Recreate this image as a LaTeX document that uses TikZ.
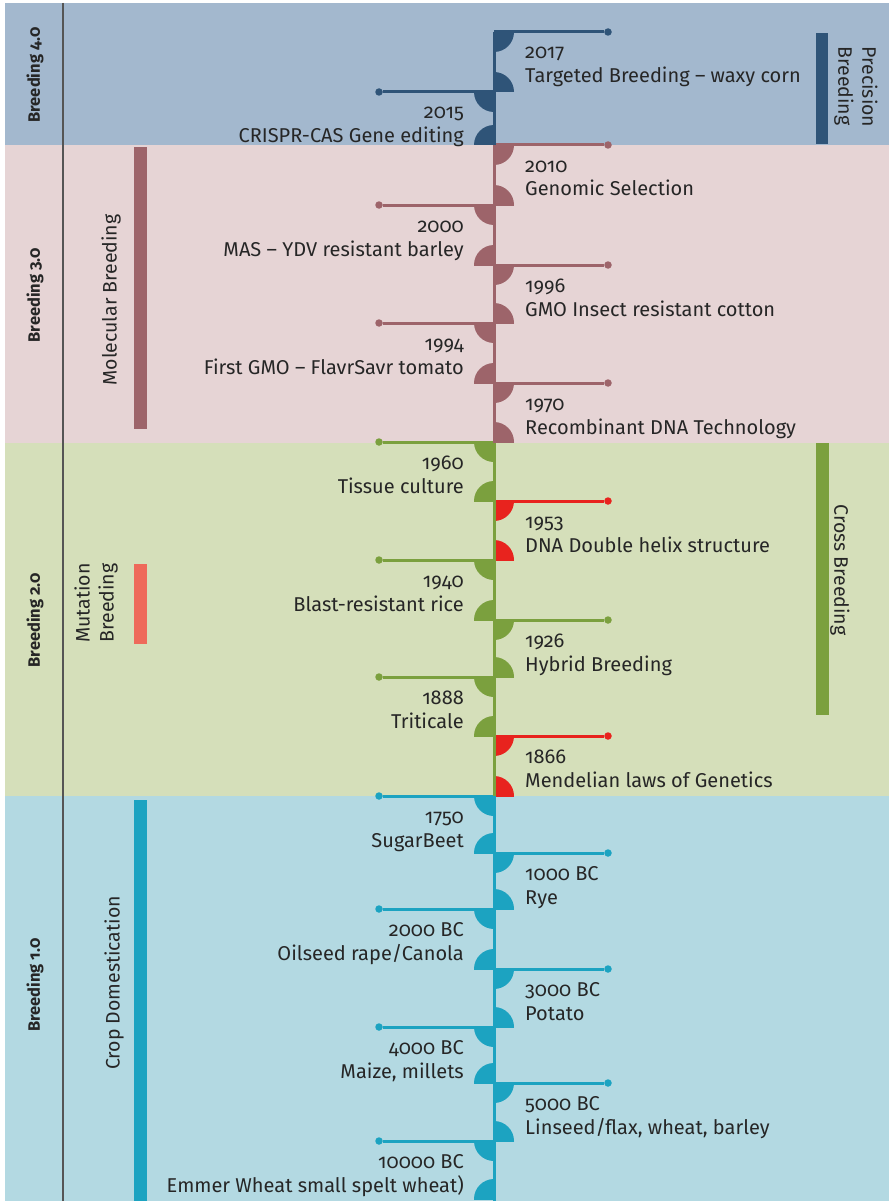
\documentclass[tikz,border=0pt]{standalone}
\usepackage{fontspec}
\setmainfont{Fira Sans}[Numbers=OldStyle]
\definecolor{bgfour}{HTML}{A3B8CE}
\definecolor{bgthree}{HTML}{E6D4D5}
\definecolor{bgtwo}{HTML}{D5DFBA}
\definecolor{bgone}{HTML}{B3D9E2}
\definecolor{cfour}{HTML}{2F5478}
\definecolor{cthree}{HTML}{9D646A}
\definecolor{ctwo}{HTML}{7BA03E}
\definecolor{cone}{HTML}{1CA3C1}
\definecolor{cred}{HTML}{E8231E}
\definecolor{ccoral}{HTML}{EE6A5A}
\definecolor{divider}{HTML}{555555}
\definecolor{ink}{HTML}{262626}

\tikzset{
  evtext/.style={inner sep=0pt, text=ink, font=\fontsize{20}{22}\selectfont},
  bandlabel/.style={inner sep=0pt, text=ink, rotate=90, font=\bfseries\fontsize{16.5}{18}\selectfont},
  grouplabel/.style={inner sep=0pt, text=ink, font=\fontsize{19.5}{24}\selectfont, align=center},
  dot/.style={circle, inner sep=0pt, minimum size=7.5pt},
  stem/.style={line width=3pt},
  spine/.style={line width=3pt},
}

% event with its stem to the right of the spine
\newcommand\revt[7]{%
  \coordinate (#7-a) at (494,#2);
  \begin{scope}\clip (494,#2) rectangle (514,#2+20);
    \fill[#4] (494,#2) circle[radius=20pt];\end{scope}
  \begin{scope}\clip (494,#3) rectangle (514,#3-20);
    \fill[#4] (494,#3) circle[radius=20pt];\end{scope}
  \node[dot, fill=#4] (#7-d) at (608,#2) {};
  \draw[stem, #4] (#7-a) -- (#7-d);
  \node[evtext, anchor=base west] (#7-y) at (525,#2+27) {#5};
  \node[evtext, anchor=base west] (#7-l) at (525,#2+51) {#6};
}
% event with its stem to the left of the spine
\newcommand\levt[7]{%
  \coordinate (#7-a) at (494,#2);
  \begin{scope}\clip (474,#2) rectangle (494,#2+20);
    \fill[#4] (494,#2) circle[radius=20pt];\end{scope}
  \begin{scope}\clip (474,#3) rectangle (494,#3-20);
    \fill[#4] (494,#3) circle[radius=20pt];\end{scope}
  \node[dot, fill=#4] (#7-d) at (379,#2) {};
  \draw[stem, #4] (#7-a) -- (#7-d);
  \node[evtext, anchor=base east] (#7-y) at (464,#2+27) {#5};
  \node[evtext, anchor=base east] (#7-l) at (464,#2+51) {#6};
}

\begin{document}
\begin{tikzpicture}[x=1pt, y=-1pt]
\useasboundingbox (0,0) rectangle (889,1201);
\clip (0,0) rectangle (889,1201);
\fill[white] (0,0) rectangle (889,1201);

% era bands
\fill[bgfour]  (5,3)   rectangle (889,145);
\fill[bgthree] (5,145) rectangle (889,443);
\fill[bgtwo]   (5,443) rectangle (889,796);
\fill[bgone]   (5,796) rectangle (889,1201);
\draw[divider, line width=1.5pt] (63,3) -- (63,1201);

% era names
\node[bandlabel] (era4) at (35,75)  {Breeding 4.0};
\node[bandlabel] (era3) at (35,295) {Breeding 3.0};
\node[bandlabel] (era2) at (35,620) {Breeding 2.0};
\node[bandlabel] (era1) at (35,985) {Breeding 1.0};

% approach bars and names
\fill[cthree] (134,147) rectangle (147,429);
\fill[ccoral] (134,564) rectangle (147,644);
\fill[cone]   (134,800) rectangle (147,1201);
\fill[cfour]  (816,33)  rectangle (828,144);
\fill[ctwo]   (816,443) rectangle (829,715);
\node[grouplabel, rotate=90] (molec) at (111,300) {Molecular Breeding};
\node[grouplabel, rotate=90] (mutat) at (96,603) {Mutation\\Breeding};
\node[grouplabel, rotate=90] (cropd) at (114,983) {Crop Domestication};
\node[grouplabel, rotate=-90, align=left] (preci) at (856,87) {Precision\\Breeding};
\node[grouplabel, rotate=-90] (cross) at (840,570) {Cross Breeding};

% events
\revt{R}{32}{92}{cfour}{2017}{Targeted Breeding -- waxy corn}{e2017}
\levt{L}{92}{145}{cfour}{2015}{CRISPR-CAS Gene editing}{e2015}
\revt{R}{145}{205}{cthree}{2010}{Genomic Selection}{e2010}
\levt{L}{205}{265}{cthree}{2000}{MAS -- YDV resistant barley}{e2000}
\revt{R}{265}{323}{cthree}{1996}{GMO Insect resistant cotton}{e1996}
\levt{L}{323}{383}{cthree}{1994}{First GMO -- FlavrSavr tomato}{e1994}
\revt{R}{383}{442}{cthree}{1970}{Recombinant DNA Technology}{e1970}
\levt{L}{442}{501}{ctwo}{1960}{Tissue culture}{e1960}
\revt{R}{501}{560}{cred}{1953}{DNA Double helix structure}{e1953}
\levt{L}{560}{620}{ctwo}{1940}{Blast-resistant rice}{e1940}
\revt{R}{620}{677}{ctwo}{1926}{Hybrid Breeding}{e1926}
\levt{L}{677}{736}{ctwo}{1888}{Triticale}{e1888}
\revt{R}{736}{796}{cred}{1866}{Mendelian laws of Genetics}{e1866}
\levt{L}{796}{853}{cone}{1750}{SugarBeet}{e1750}
\revt{R}{853}{909}{cone}{1000 BC}{Rye}{e1000}
\levt{L}{909}{969}{cone}{2000 BC}{Oilseed rape/Canola}{e2000bc}
\revt{R}{969}{1027}{cone}{3000 BC}{Potato}{e3000}
\levt{L}{1027}{1083}{cone}{4000 BC}{Maize, millets}{e4000}
\revt{R}{1083}{1141}{cone}{5000 BC}{Linseed/flax, wheat, barley}{e5000}
\levt{L}{1141}{1199}{cone}{10000 BC}{Emmer Wheat small spelt wheat)}{e10000}

% time spine
\coordinate (s0) at (494,32);
\coordinate (s1) at (494,145);
\coordinate (s2) at (494,443);
\coordinate (s3) at (494,796);
\coordinate (s4) at (494,1201);
\draw[spine, cfour]  (s0) -- (s1);
\draw[spine, cthree] (s1) -- (s2);
\draw[spine, ctwo]   (s2) -- (s3);
\draw[spine, cone]   (s3) -- (s4);
\end{tikzpicture}
\end{document}
